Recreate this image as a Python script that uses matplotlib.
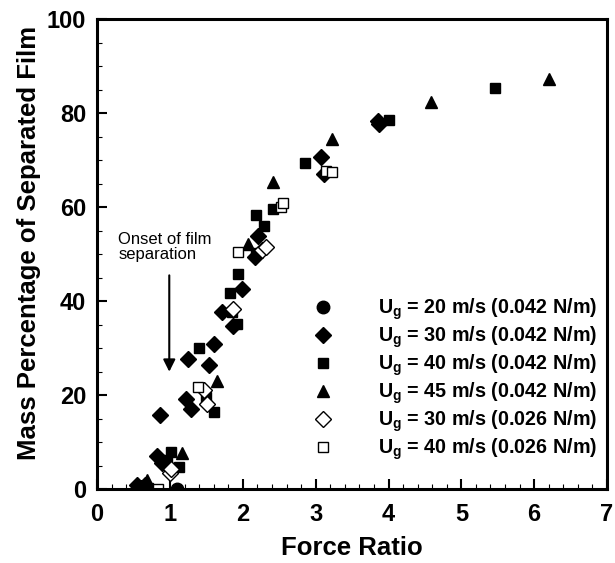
import matplotlib
matplotlib.use("Agg")
import matplotlib.pyplot as plt
from matplotlib.ticker import MultipleLocator

plt.rcParams['font.family'] = ['Liberation Sans', 'DejaVu Sans']
plt.rcParams['mathtext.fontset'] = 'custom'
plt.rcParams['mathtext.rm'] = 'Liberation Sans'
plt.rcParams['mathtext.bf'] = 'Liberation Sans:bold'
plt.rcParams['mathtext.it'] = 'Liberation Sans:italic'

# Ug = 20 m/s, sigma = 0.042 N/m
x20 = [1.10]
y20 = [0.0]

# Ug = 30 m/s, sigma = 0.042 N/m
x30 = [0.54, 0.60, 0.66, 0.82, 0.89, 0.86, 1.22, 1.29, 1.25, 1.54, 1.60,
       1.72, 1.86, 1.99, 2.17, 2.21, 3.08, 3.11, 3.87, 3.85]
y30 = [1.0, 0.3, 0.8, 7.0, 5.6, 15.8, 19.1, 17.1, 27.6, 26.5, 30.9,
       37.6, 34.8, 42.5, 49.4, 53.8, 70.6, 67.0, 77.6, 78.3]

# Ug = 40 m/s, sigma = 0.042 N/m
x40 = [0.62, 0.70, 0.96, 1.02, 1.13, 1.40, 1.50, 1.61, 1.83, 1.85, 1.92,
       1.93, 2.18, 2.18, 2.29, 2.42, 2.85, 4.00, 5.46]
y40 = [0.0, 0.3, 6.3, 8.0, 4.7, 30.1, 19.6, 16.5, 41.7, 37.7, 35.2,
       45.8, 50.3, 58.3, 55.9, 59.7, 69.3, 78.5, 85.3]

# Ug = 45 m/s, sigma = 0.042 N/m
x45 = [0.68, 1.17, 1.64, 2.07, 2.41, 3.23, 4.59, 6.20]
y45 = [2.0, 7.7, 23.0, 52.1, 65.3, 74.4, 82.4, 87.2]

# Ug = 30 m/s, sigma = 0.026 N/m
x30b = [1.00, 1.02, 1.46, 1.51, 1.86, 2.26, 2.32]
y30b = [3.4, 4.4, 21.1, 18.1, 38.3, 50.9, 51.5]

# Ug = 40 m/s, sigma = 0.026 N/m
x40b = [0.83, 1.38, 1.94, 2.53, 2.55, 3.14, 3.22]
y40b = [0.0, 21.7, 50.4, 60.1, 60.8, 67.7, 67.5]

labels = [r'U$_\mathbf{g}$ = 20 m/s (0.042 N/m)',
          r'U$_\mathbf{g}$ = 30 m/s (0.042 N/m)',
          r'U$_\mathbf{g}$ = 40 m/s (0.042 N/m)',
          r'U$_\mathbf{g}$ = 45 m/s (0.042 N/m)',
          r'U$_\mathbf{g}$ = 30 m/s (0.026 N/m)',
          r'U$_\mathbf{g}$ = 40 m/s (0.026 N/m)']

fig = plt.figure(figsize=(6.15, 5.63), dpi=100)
ax = fig.add_axes([0.158, 0.131, 0.829, 0.835])

ax.plot(x20, y20, 'o', ms=9, color='black', ls='none', label=labels[0])
ax.plot(x30, y30, 'D', ms=8.5, color='black', ls='none', label=labels[1])
ax.plot(x40, y40, 's', ms=7.5, color='black', ls='none', label=labels[2])
ax.plot(x45, y45, '^', ms=8, color='black', ls='none', label=labels[3])
ax.plot(x30b, y30b, 'D', ms=8.5, mfc='white', mec='black', mew=1.0, ls='none', label=labels[4])
ax.plot(x40b, y40b, 's', ms=7.5, mfc='white', mec='black', mew=1.0, ls='none', label=labels[5])

# onset arrow
ax.annotate('', xy=(0.99, 25), xytext=(0.99, 45.5),
            arrowprops=dict(arrowstyle='-|>', color='black', lw=1.5,
                            mutation_scale=18, shrinkA=0, shrinkB=0))
ax.text(0.29, 51.5, 'Onset of film\nseparation', fontsize=12, ha='left', va='center',
        linespacing=1.0)

ax.set_xlim(0, 7)
ax.set_ylim(0, 100)
ax.xaxis.set_major_locator(MultipleLocator(1))
ax.xaxis.set_minor_locator(MultipleLocator(0.2))
ax.yaxis.set_major_locator(MultipleLocator(20))
ax.yaxis.set_minor_locator(MultipleLocator(5))
ax.tick_params(which='major', direction='in', length=7, width=1.5, labelsize=17, pad=8)
ax.tick_params(axis='x', which='major', pad=10)
ax.tick_params(which='minor', direction='in', length=3.5, width=0.8)
for lbl in ax.get_xticklabels() + ax.get_yticklabels():
    lbl.set_fontweight('bold')
for sp in ax.spines.values():
    sp.set_linewidth(2.2)

ax.set_xlabel('Force Ratio', fontsize=18.5, fontweight='bold', labelpad=7)
ax.set_ylabel('Mass Percentage of Separated Film', fontsize=18.5, fontweight='bold')
ax.yaxis.set_label_coords(-0.110, 0.523)

leg = ax.legend(loc='lower right', bbox_to_anchor=(1.0, 0.036), frameon=False,
                prop={'size': 14.2, 'weight': 'bold'}, handletextpad=2.3,
                labelspacing=0.13, borderaxespad=0.1, handlelength=1.0)

fig.savefig('out.png', dpi=100)
